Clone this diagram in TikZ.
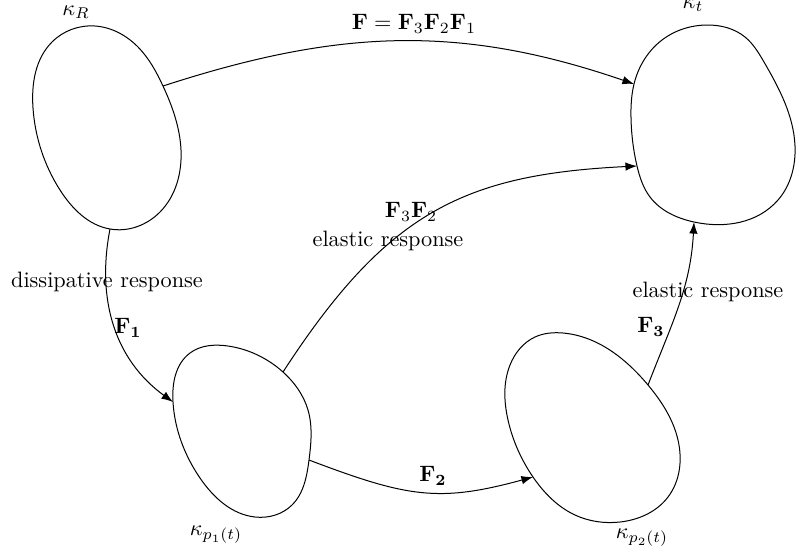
\documentclass[tikz,border=0pt]{standalone}
\usetikzlibrary{arrows.meta,hobby}
\begin{document}
\begin{tikzpicture}[x=0.449pt,y=-0.449pt,
  blob/.style={draw,line width=0.45pt},
  conn/.style={draw,line width=0.45pt,-{Latex[length=5.2pt,width=3.8pt]}},
  lbl/.style={inner sep=0pt}]
\useasboundingbox (0,0) rectangle (796,555);
% attachment points
\coordinate (R1) at (163,86);
\coordinate (R2) at (110,229);
\coordinate (T1) at (634,84);
\coordinate (T2) at (637,166);
\coordinate (T3) at (694,222);
\coordinate (P1a) at (283,372);
\coordinate (P1b) at (309,460);
\coordinate (P1in) at (173,402);
\coordinate (P2in) at (533,477);
\coordinate (P2a) at (648,385);
% blobs
\draw[blob] plot[closed hobby] coordinates {(95,26) (138,47) (R1) (181,150) (160,212) (R2) (60,190) (33,108) (52,42)};
\draw[blob] plot[closed hobby] coordinates {(707,25) (745,37) (764,62) (795,146) (778,200) (T3) (650,197) (T2) (631,118) (T1) (662,40)};
\draw[blob] plot[closed hobby] coordinates {(228,346) (P1a) (308,410) (P1b) (292,505) (255,517) (200,478) (P1in) (190,353)};
\draw[blob] plot[closed hobby] coordinates {(563,333) (P2a) (678,440) (668,497) (620,522) (575,515) (P2in) (508,420) (510,365) (535,337)};
% connectors
\draw[conn] (R1) to[out=18,in=161] (T1);
\draw[conn] (R2) to[out=-101,in=144] (P1in);
\draw[conn] (P1a) .. controls (386.6,212.6) and (463,174.5) .. (T2);
\draw[conn] (P1b) .. controls (408,497.6) and (439,502.6) .. (P2in);
\draw[conn] (P2a) to[out=69,in=-93] (T3);
% labels
\node[lbl] (lF) at (414,24) {$\mathbf{F}=\mathbf{F}_3\mathbf{F}_2\mathbf{F}_1$};
\node[lbl] (lF32) at (411,212) {$\mathbf{F}_3\mathbf{F}_2$};
\node[lbl] (lel1) at (388,241) {elastic response};
\node[lbl] (ldis) at (107,282) {dissipative response};
\node[lbl] (lF1) at (128,328) {$\mathbf{F_1}$};
\node[lbl] (lF2) at (433,476) {$\mathbf{F_2}$};
\node[lbl] (lF3) at (651,327) {$\mathbf{F_3}$};
\node[lbl] (lel2) at (708,292) {elastic response};
\node[lbl] (kR) at (76,12) {$\kappa_R$};
\node[lbl] (kt) at (693,5) {$\kappa_t$};
\node[lbl] (kp1) at (216,535) {$\kappa_{p_1(t)}$};
\node[lbl] (kp2) at (642,538) {$\kappa_{p_2(t)}$};
\end{tikzpicture}
\end{document}
